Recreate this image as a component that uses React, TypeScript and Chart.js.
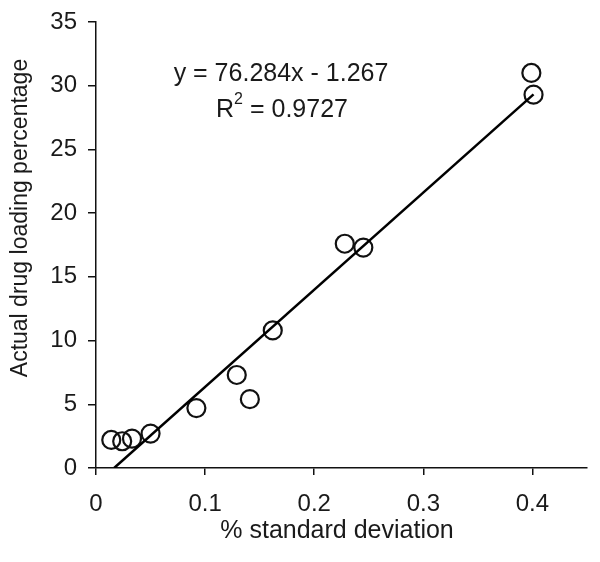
import React, { useEffect, useRef } from "react";
import { Chart, registerables } from "chart.js";

Chart.register(...registerables);

const sdValues = [0.014, 0.024, 0.033, 0.050, 0.092, 0.129, 0.141, 0.162, 0.228, 0.245, 0.399, 0.401];
const loadingValues = [2.2, 2.1, 2.3, 2.7, 4.7, 7.3, 5.4, 10.8, 17.6, 17.3, 31.0, 29.3];
const trendSlope = 76.284;
const trendIntercept = -1.267;
const trendXStart = 1.267 / 76.284;
const trendXEnd = 0.401;
const xTicks = [0, 0.1, 0.2, 0.3, 0.4];
const yTicks = [0, 5, 10, 15, 20, 25, 30, 35];
const xTitle = "% standard deviation";
const yTitle = "Actual drug loading percentage";
const eqLine1 = "y = 76.284x - 1.267";
const eqR2 = "0.9727";

const FONT = "'Liberation Sans', Arial, Helvetica, sans-serif";
const TEXT = "#1a1a1a";

const textPlugin = {
  id: "customText",
  afterDraw(chart: any) {
    const ctx = chart.ctx;
    ctx.save();
    ctx.fillStyle = TEXT;
    ctx.textAlign = "center";
    ctx.textBaseline = "middle";
    // x title
    ctx.font = `25px ${FONT}`;
    ctx.fillText(xTitle, 337, 531);
    // y title
    ctx.save();
    ctx.font = `23px ${FONT}`;
    ctx.translate(21, 218);
    ctx.rotate(-Math.PI / 2);
    ctx.fillText(yTitle, 0, 0);
    ctx.restore();
    // equation
    ctx.font = `25px ${FONT}`;
    ctx.fillText(eqLine1, 281, 74);
    // R^2
    const rPart = "R";
    const rest = " = " + eqR2;
    ctx.font = `25px ${FONT}`;
    const wR = ctx.measureText(rPart).width;
    const wRest = ctx.measureText(rest).width;
    ctx.font = `16px ${FONT}`;
    const wSup = ctx.measureText("2").width;
    const total = wR + wSup + wRest;
    const x0 = 282 - total / 2;
    ctx.textAlign = "left";
    ctx.font = `25px ${FONT}`;
    ctx.fillText(rPart, x0, 110);
    ctx.font = `16px ${FONT}`;
    ctx.fillText("2", x0 + wR, 100);
    ctx.font = `25px ${FONT}`;
    ctx.fillText(rest, x0 + wR + wSup, 110);
    ctx.restore();
  },
};

export default function App() {
  const ref = useRef<HTMLCanvasElement | null>(null);
  useEffect(() => {
    if (!ref.current) return;
    const scatter = sdValues.map((x, i) => ({ x, y: loadingValues[i] }));
    const trend = [trendXStart, trendXEnd].map((x) => ({ x, y: trendSlope * x + trendIntercept }));
    const chart = new Chart(ref.current, {
      type: "scatter",
      data: {
        datasets: [
          {
            type: "line",
            data: trend,
            borderColor: "#000",
            borderWidth: 2.5,
            pointRadius: 0,
            fill: false,
          },
          {
            data: scatter,
            pointRadius: 9,
            pointBorderWidth: 2.2,
            pointBorderColor: "#111",
            pointBackgroundColor: "rgba(0,0,0,0)",
            showLine: false,
          },
        ],
      } as any,
      options: {
        animation: false,
        responsive: false,
        layout: { padding: { left: 0, top: 22, right: 13, bottom: 0 } },
        plugins: { legend: { display: false }, tooltip: { enabled: false } },
        scales: {
          x: {
            type: "linear",
            min: 0,
            max: 0.45,
            afterBuildTicks: (s: any) => {
              s.ticks = xTicks.map((v) => ({ value: v }));
            },
            afterFit: (s: any) => {
              s.height = 94;
              s.paddingLeft = 0;
              s.paddingRight = 0;
            },
            ticks: {
              color: TEXT,
              font: { family: FONT, size: 24 },
              padding: 15,
              callback: (v: any) => String(v),
            },
            grid: { drawOnChartArea: false, drawTicks: true, tickLength: 7, color: "#111", lineWidth: 1.5 },
            border: { display: true, color: "#111", width: 1.5 },
          },
          y: {
            type: "linear",
            min: 0,
            max: 35,
            afterBuildTicks: (s: any) => {
              s.ticks = yTicks.map((v) => ({ value: v }));
            },
            afterFit: (s: any) => {
              s.width = 96;
              s.paddingTop = 0;
              s.paddingBottom = 0;
            },
            ticks: {
              color: TEXT,
              font: { family: FONT, size: 24 },
              padding: 11,
            },
            grid: { drawOnChartArea: false, drawTicks: true, tickLength: 8, color: "#111", lineWidth: 1.5 },
            border: { display: true, color: "#111", width: 1.5 },
          },
        },
      },
      plugins: [textPlugin],
    });
    return () => chart.destroy();
  }, []);
  return (
    <div style={{ position: "absolute", left: 0, top: 0, width: 600, height: 562, background: "#fff" }}>
      <canvas ref={ref} width={600} height={562} style={{ display: "block" }} />
    </div>
  );
}
